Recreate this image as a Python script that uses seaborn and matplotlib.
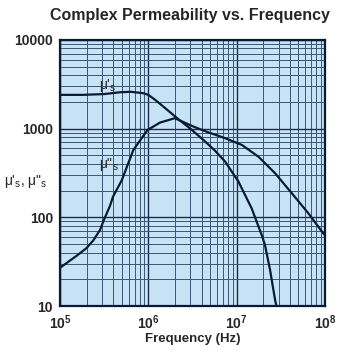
import numpy as np
import pandas as pd
import matplotlib
matplotlib.use("Agg")
import matplotlib.pyplot as plt
import matplotlib.ticker as mticker
import seaborn as sns

# log10 frequency and values
mu1_logf = [5.0, 5.25, 5.5, 5.68, 5.8, 5.94, 6.0, 6.08, 6.17, 6.34, 6.48, 6.623, 6.75, 6.869, 7.02, 7.17, 7.284, 7.32, 7.378, 7.435, 7.45]
mu1_val = [2400, 2400, 2450, 2570, 2600, 2510, 2400, 2100, 1770, 1277, 990, 746, 570, 425, 253, 126, 63, 49, 25.5, 11.7, 10]
mu2_logf = [5.0, 5.19, 5.30, 5.377, 5.453, 5.49, 5.566, 5.60, 5.70, 5.83, 5.99, 6.133, 6.30, 6.51, 6.65, 6.869, 7.058, 7.246, 7.435, 7.624, 7.812, 7.98, 8.0]
mu2_val = [27, 37, 45, 55, 72, 90, 135, 171, 263, 574, 965, 1170, 1310, 1055, 930, 780, 655, 483, 314, 187, 111, 66, 63]

title = "Complex Permeability vs. Frequency"
xlabel = "Frequency (Hz)"
ytick_vals = [10, 100, 1000, 10000]
ytick_labels = ["10", "100", "1000", "10000"]
xtick_vals = [1e5, 1e6, 1e7, 1e8]
xtick_exps = [5, 6, 7, 8]

sns.set_theme(style="white")
plt.rcParams['font.family'] = ['Liberation Sans', 'DejaVu Sans']
plt.rcParams['mathtext.fontset'] = 'custom'
plt.rcParams['mathtext.rm'] = 'Liberation Sans'
plt.rcParams['mathtext.it'] = 'Liberation Sans'
plt.rcParams['mathtext.bf'] = 'Liberation Sans:bold'

df = pd.concat([
    pd.DataFrame({"f": 10 ** np.array(mu1_logf), "v": mu1_val, "s": "mu1"}),
    pd.DataFrame({"f": 10 ** np.array(mu2_logf), "v": mu2_val, "s": "mu2"}),
])

fig = plt.figure(figsize=(3.43, 3.53), dpi=100)
ax = fig.add_axes([0.175, 0.133, 0.7725, 0.754])
ax.set_facecolor("#c9e3f6")
ax.set_xscale("log")
ax.set_yscale("log")
ax.set_xlim(1e5, 1e8)
ax.set_ylim(10, 10000)

line_col = "#0b1a33"
sns.lineplot(data=df, x="f", y="v", hue="s", palette=[line_col, line_col],
             linewidth=1.6, legend=False, ax=ax, sort=False)

ax.xaxis.set_major_locator(mticker.FixedLocator(xtick_vals))
ax.xaxis.set_minor_locator(mticker.LogLocator(base=10, subs=np.arange(2, 10)))
ax.yaxis.set_major_locator(mticker.FixedLocator(ytick_vals))
ax.yaxis.set_minor_locator(mticker.LogLocator(base=10, subs=np.arange(2, 10)))
ax.xaxis.set_minor_formatter(mticker.NullFormatter())
ax.yaxis.set_minor_formatter(mticker.NullFormatter())
ax.set_xticklabels([r"$\mathbf{10^{%d}}$" % e for e in xtick_exps], fontsize=10)
ax.set_yticklabels(ytick_labels, fontsize=10, fontweight="bold")
ax.tick_params(which="both", length=0, pad=5)

ax.grid(which="major", color="#1c2c48", linewidth=1.0)
ax.grid(which="minor", color="#3a5677", linewidth=0.7)
ax.set_axisbelow(True)
for sp in ax.spines.values():
    sp.set_color("#0b1a33")
    sp.set_linewidth(1.6)

ax.set_xlabel(xlabel, fontsize=9.5, fontweight="bold", labelpad=1)
ax.set_ylabel("")
fig.text(0.075, 0.487, "\u03bc'${}_{s}$, \u03bc\"${}_{s}$", fontsize=10, ha="center", va="center")
ax.text(3.5e5, 3100, "\u03bc'${}_{s}$", fontsize=10, ha="center", va="center")
ax.text(3.6e5, 390, "\u03bc\"${}_{s}$", fontsize=10, ha="center", va="center")

fig.text(0.553, 0.955, title, fontsize=11.5, fontweight="bold", ha="center", va="center")

fig.savefig("out.png", dpi=100)
